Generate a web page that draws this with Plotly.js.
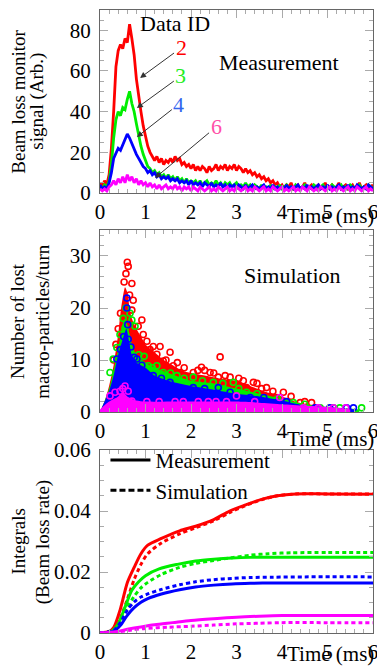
<!DOCTYPE html>
<html>
<head>
<meta charset="utf-8">
<script src="https://cdn.plot.ly/plotly-3.0.1.min.js"></script>
<style>html,body{margin:0;padding:0;background:#fff;}#chart{width:377px;height:667px;}</style>
</head>
<body>
<div id="chart"></div>
<script>
// ---------- Panel 1: measurement (beam loss monitor signal) ----------
const timeMs = [
  0,0.05,0.1,0.15,0.2,0.25,0.3,0.35,0.4,0.45,
  0.5,0.55,0.6,0.65,0.7,0.75,0.8,0.85,0.9,0.95,
  1,1.05,1.1,1.15,1.2,1.25,1.3,1.35,1.4,1.45,
  1.5,1.55,1.6,1.65,1.7,1.75,1.8,1.85,1.9,1.95,
  2,2.05,2.1,2.15,2.2,2.25,2.3,2.35,2.4,2.45,
  2.5,2.55,2.6,2.65,2.7,2.75,2.8,2.85,2.9,2.95,
  3,3.05,3.1,3.15,3.2,3.25,3.3,3.35,3.4,3.45,
  3.5,3.55,3.6,3.65,3.7,3.75,3.8,3.85,3.9,3.95,
  4,4.05,4.1,4.15,4.2,4.25,4.3,4.35,4.4,4.45,
  4.5,4.55,4.6,4.65,4.7,4.75,4.8,4.85,4.9,4.95,
  5,5.05,5.1,5.15,5.2,5.25,5.3,5.35,5.4,5.45,
  5.5,5.55,5.6,5.65,5.7,5.75,5.8,5.85,5.9,5.95,
  6
];
const measId2 = [
  5,3,6,4,9,22,40,62,70,73,
  71,76,74,83,76,68,56,47,40,33,
  28,23,20,18,16,18,15,17,14,16,
  15,17,15,18,16,17,14,15,13,14,
  12,14,11,13,11,13,12,10,13,11,
  12,14,11,13,12,14,11,13,12,14,
  11,13,12,10,12,10,11,9,10,8,
  9,7,8,6,7,5,6,4,5,3,
  4,2,4,3,5,2,3,4,2,3,
  5,2,3,4,2,3,4,2,3,5,
  2,3,4,2,3,5,2,3,4,2,
  3,4,2,3,5,2,3,4,2,3,
  4
];
const measId3 = [
  3,2,4,3,6,14,27,36,40,38,
  42,41,46,50,44,40,34,28,23,19,
  16,13,12,10,11,9,10,8,9,7,
  9,7,8,6,8,6,7,5,7,5,
  6,5,6,4,6,4,5,6,4,5,
  4,6,4,5,3,5,4,5,3,4,
  5,3,4,3,5,3,4,2,4,3,
  2,4,2,3,2,4,2,3,2,4,
  2,3,4,2,3,2,4,3,2,3,
  4,2,3,2,4,3,2,3,4,2,
  3,2,4,3,2,3,4,2,3,2,
  4,3,2,3,4,2,3,2,4,3,
  2
];
const measId4 = [
  4,2,3,2,5,10,17,20,22,21,
  24,26,29,27,24,22,19,17,15,13,
  12,10,11,9,10,8,9,7,8,7,
  8,6,7,6,7,5,6,5,6,4,
  6,4,5,4,5,3,5,4,3,5,
  3,4,3,5,3,4,2,4,3,4,
  2,4,3,2,4,2,3,4,2,3,
  2,3,4,2,3,2,4,2,3,2,
  3,2,4,2,3,2,3,4,2,3,
  2,4,2,3,2,3,4,2,3,2,
  4,2,3,2,3,4,2,3,2,4,
  2,3,2,4,3,2,3,2,4,3,
  2
];
const measId6 = [
  2,1,2,1,3,4,6,4,7,5,
  8,5,9,6,8,5,7,4,6,4,
  5,3,5,3,4,2,4,2,3,4,
  2,3,2,4,2,3,1,3,2,3,
  1,3,2,1,3,2,1,2,3,1,
  2,1,3,2,1,2,3,1,2,1,
  3,2,1,2,3,1,2,1,3,2,
  1,2,3,1,2,1,3,2,1,2,
  3,1,2,1,2,3,1,2,1,3,
  2,1,3,2,1,2,1,3,2,1,
  2,3,1,2,1,3,2,1,2,3,
  1,2,1,3,2,1,2,3,1,2,
  1
];

// ---------- Panel 2: simulation (lost macro-particles per turn) ----------
// dense cores (upper envelope of the packed markers)
const coreRedT  = [0,0.1,0.2,0.3,0.4,0.45,0.5,0.55,0.6,0.65,0.7,0.8,0.9,1.0,1.2,1.4,1.6,1.8,2.0,2.3,2.6,3.0,3.3,3.6,4.0,4.3,4.6,5.0];
const coreRedN  = [0,2,5,9,15,19,22,24,23,20,18,16,14.5,13,11.5,10,9,8,7.5,7,6.5,6,5,4,3,2,1.2,0.5];
const coreGreenT = [0,0.1,0.2,0.3,0.4,0.5,0.55,0.65,0.7,0.8,1.0,1.2,1.5,2.0,2.5,3.0,3.5,4.0,4.5,5.0,5.7];
const coreGreenN = [0,2,4.5,8,12,17,18,15,13,11,9.5,8.5,7.5,6,5.5,4.5,3.5,2.5,1.5,1,0.5];
const coreBlueT = [0,0.1,0.2,0.3,0.4,0.5,0.58,0.65,0.7,0.8,0.9,1.0,1.2,1.5,2.0,2.5,3.0,3.5,4.0,4.5,5.0,5.6];
const coreBlueN = [0,2,4,7,11,14,16,13,11,9.5,9,8.5,7,6,5,4.3,3.5,3,2.2,1.2,0.9,0.5];
const coreMagT  = [0,0.2,0.4,0.5,0.6,0.8,1.0,2.0,3.0,3.5,4.0,4.5,5.0,5.5];
const coreMagN  = [0.5,2,3,4,3,2.2,2,2,2,1.8,1.5,1.2,1,0.5];
// individually visible markers
const simRedT = [0.60,0.62,0.57,0.53,0.70,0.65,0.73,0.70,0.92,0.84,0.95,1.03,1.17,1.32,1.54,1.25,1.03,1.39,1.61,1.76,2.23,2.05,2.42,2.64,2.60,2.86,3.37,3.22,3.66,4.03,3.88,4.65,4.40,1.10,1.45,1.85,2.15,2.50,2.75,3.05,3.45,1.70,2.30,0.45,0.40,0.35,0.30,3.15,3.55,3.80,4.20,4.50];
const simRedN = [28.8,28,26.6,25,24.7,22.5,21.5,19.6,17.7,16.5,14.9,13.6,12.6,12.6,11.5,11.1,10.2,9.8,8.9,7.6,8.6,7.6,7.6,10.6,6.7,6.7,5.7,4.7,4.7,3.8,2.8,1.8,1.8,12,10,8.5,8,7.5,7,6.5,5.5,9.5,8,19,16,13,10,6,4.5,4,3,2];
const simGreenT = [0.57,0.51,0.66,0.70,0.55,0.44,0.77,0.97,0.37,0.29,0.22,1.06,1.25,1.39,1.69,2.05,2.49,2.93,3.22,3.66,4.10,4.25,4.84,5.13,5.27,5.75,0.85,1.15,1.55,1.85,2.25,2.70,3.05,3.45,3.90,4.50];
const simGreenN = [20,18,19,17.7,16.1,14.9,16.5,10.7,12.4,10.2,7.6,8.9,8.9,7.6,7,6.7,5.7,5.7,3.8,2.5,1.8,1.8,0.8,0.8,0.8,0.8,11,8.5,7.5,6.5,6,5.5,4.5,3.5,2.5,1.5];
const simBlueT = [0.59,0.59,0.61,0.62,0.37,0.81,1.17,1.54,1.83,2.05,2.60,2.86,3.30,3.88,4.32,4.73,5.42,5.57,0.45,0.52,0.68,0.75,0.92,1.35,2.30,3.60,4.10,5.05];
const simBlueN = [21.9,20,16.8,14,10.2,10.2,7,5.7,4.1,4.7,4.7,3.8,2.8,1.8,0.8,0.8,0.8,0.8,12,14.5,12.5,10.5,9,6.5,4.5,2.8,2,0.8];
const simMagT = [0.55,0.44,0.33,0.22,0.70,1.03,1.65,1.83,2.16,2.38,2.78,3.00,3.95,4.47,5.13,0.62,0.50,1.30,2.55,3.40,4.80,5.40];
const simMagN = [5,4,3.8,3.1,2.1,2,2,2,2,2,2,3.1,2.8,0.8,0.8,4,4.5,2,2,2,0.8,0.8];

// ---------- Panel 3: integrals (beam loss rate) ----------
const intRedMeasT = [0,0.2,0.3,0.45,0.6,0.75,0.9,1.05,1.35,1.75,2.1,2.5,2.85,3.2,3.55,3.9,4.3,5,6];
const intRedMeas  = [0,0.0005,0.0018,0.008,0.0165,0.0215,0.026,0.0288,0.031,0.0335,0.035,0.0372,0.040,0.042,0.0438,0.045,0.0456,0.0456,0.0455];
const intRedSimT  = [0,0.3,0.45,0.6,0.75,0.9,1.05,1.35,1.75,2.1,2.5,2.85,3.2,3.55,3.9,4.3,5,6];
const intRedSim   = [0,0.001,0.005,0.011,0.0175,0.0225,0.026,0.0295,0.0325,0.0345,0.0368,0.0395,0.0418,0.0437,0.045,0.0456,0.0456,0.0456];
const intGreenMeasT = [0,0.25,0.4,0.55,0.7,0.85,1.0,1.3,1.7,2.1,2.5,2.9,3.3,3.8,4.5,6];
const intGreenMeas  = [0,0.0005,0.003,0.0085,0.014,0.0168,0.0188,0.021,0.0225,0.0236,0.0242,0.0246,0.0248,0.0248,0.0248,0.0248];
const intGreenSimT  = [0,0.3,0.45,0.6,0.75,0.9,1.05,1.35,1.75,2.1,2.5,2.9,3.3,3.7,4.2,5,6];
const intGreenSim   = [0,0.0008,0.004,0.0085,0.012,0.0148,0.0166,0.0192,0.0215,0.0228,0.0238,0.0247,0.0255,0.026,0.0263,0.0264,0.0264];
const intBlueMeasT = [0,0.3,0.45,0.6,0.75,0.9,1.05,1.35,1.75,2.1,2.5,2.9,3.3,3.8,4.5,6];
const intBlueMeas  = [0,0.0005,0.0025,0.0058,0.0083,0.0101,0.0113,0.0128,0.0142,0.0151,0.0157,0.0161,0.0163,0.0164,0.0164,0.0164];
const intBlueSimT  = [0,0.3,0.45,0.6,0.75,0.9,1.05,1.35,1.75,2.1,2.5,2.9,3.3,3.8,4.5,6];
const intBlueSim   = [0,0.0008,0.0035,0.0075,0.0102,0.0118,0.0128,0.0143,0.0158,0.0168,0.0175,0.0179,0.0182,0.0183,0.0184,0.0184];
const intMagMeasT = [0,0.3,0.6,0.9,1.2,1.6,2.0,2.5,3.0,3.5,4.0,5,6];
const intMagMeas  = [0,0.0003,0.0012,0.002,0.0027,0.0034,0.0041,0.0047,0.0052,0.0055,0.0057,0.0057,0.0057];
const intMagSimT  = [0,0.4,0.7,1.0,1.5,2.0,2.5,3.0,3.5,4.0,5,6];
const intMagSim   = [0,0.0004,0.001,0.0015,0.0019,0.0022,0.0026,0.003,0.0032,0.0034,0.0034,0.0034];

const seriesNames = ['Data ID 2','Data ID 3','Data ID 4','Data ID 6'];
const colors = ['#ff0000','#00ee00','#0000ff','#ff00ff'];
const FONT = 'Liberation Serif';

const traces = [];
// panel 1
[measId2, measId3, measId4, measId6].forEach((v,i)=>{
  traces.push({x: timeMs, y: v, type:'scatter', mode:'lines', xaxis:'x', yaxis:'y',
    line:{color: colors[i], width: 2.8}, name: seriesNames[i], showlegend:false, hoverinfo:'skip'});
});
// panel 2
const cores = [[coreRedT,coreRedN],[coreGreenT,coreGreenN],[coreBlueT,coreBlueN],[coreMagT,coreMagN]];
const pts = [[simRedT,simRedN],[simGreenT,simGreenN],[simBlueT,simBlueN],[simMagT,simMagN]];
for (let i=0;i<4;i++){
  traces.push({x: cores[i][0], y: cores[i][1], type:'scatter', mode:'lines', fill:'tozeroy',
    xaxis:'x2', yaxis:'y2', line:{width:0, color:colors[i], shape:'spline', smoothing:0.6},
    fillcolor: colors[i], showlegend:false, hoverinfo:'skip', name: seriesNames[i]});
  traces.push({x: pts[i][0], y: pts[i][1], type:'scatter', mode:'markers', xaxis:'x2', yaxis:'y2',
    marker:{symbol:'circle-open', size:6, color:colors[i], line:{width:1.6, color:colors[i]}},
    showlegend:false, hoverinfo:'skip', name: seriesNames[i]});
}
// panel 3
const meas = [[intRedMeasT,intRedMeas],[intGreenMeasT,intGreenMeas],[intBlueMeasT,intBlueMeas],[intMagMeasT,intMagMeas]];
const sims = [[intRedSimT,intRedSim],[intGreenSimT,intGreenSim],[intBlueSimT,intBlueSim],[intMagSimT,intMagSim]];
for (let i=0;i<4;i++){
  traces.push({x: meas[i][0], y: meas[i][1], type:'scatter', mode:'lines', xaxis:'x3', yaxis:'y3',
    line:{color:colors[i], width:3, shape:'spline', smoothing:0.8}, showlegend:false, hoverinfo:'skip', name: seriesNames[i]});
  traces.push({x: sims[i][0], y: sims[i][1], type:'scatter', mode:'lines', xaxis:'x3', yaxis:'y3',
    line:{color:colors[i], width:3, dash:'4px,3px', shape:'spline', smoothing:0.8}, showlegend:false, hoverinfo:'skip', name: seriesNames[i]});
}
// legend entries
traces.push({x:[null], y:[null], type:'scatter', mode:'lines', xaxis:'x3', yaxis:'y3', name:'Measurement', line:{color:'#000', width:3}});
traces.push({x:[null], y:[null], type:'scatter', mode:'lines', xaxis:'x3', yaxis:'y3', name:'Simulation', line:{color:'#000', width:3, dash:'6px,3px'}});

function xa(anchor){
  return {anchor: anchor, range:[0,6], dtick:1, tick0:0, showgrid:false, zeroline:false,
    showline:true, linecolor:'#666', linewidth:1, mirror:'allticks', ticks:'inside', ticklen:8,
    tickcolor:'#aaa', tickwidth:1, ticklabeloverflow:'allow', tickfont:{family:FONT, size:21, color:'#000'},
    minor:{ticks:'inside', dtick:0.2, ticklen:4, tickcolor:'#aaa', showgrid:false}};
}
function ya(domain, range, dtick, minor){
  return {domain: domain, range: range, dtick: dtick, tick0:0, showgrid:false, zeroline:false,
    showline:true, linecolor:'#666', linewidth:1, mirror:'allticks', ticks:'inside', ticklen:8,
    tickcolor:'#aaa', tickwidth:1, ticklabelstandoff:4, ticklabeloverflow:'allow', tickfont:{family:FONT, size:21, color:'#000'},
    minor:{ticks:'inside', dtick:minor, ticklen:4, tickcolor:'#aaa', showgrid:false}};
}

const ann = [];
function txt(text, x, y, xref, yref, size, color, extra){
  ann.push(Object.assign({text:text, x:x, y:y, xref:xref, yref:yref, showarrow:false,
    font:{family:FONT, size:size, color:color||'#000'}}, extra||{}));
}
// y-axis titles (two lines each)
txt('Beam loss monitor', -0.300, 0.853, 'paper','paper', 19, '#000', {textangle:-90, xanchor:'center', yanchor:'middle'});
txt('signal (Arb.)', -0.234, 0.853, 'paper','paper', 19, '#000', {textangle:-90, xanchor:'center', yanchor:'middle'});
txt('Number of lost', -0.300, 0.501, 'paper','paper', 19, '#000', {textangle:-90, xanchor:'center', yanchor:'middle'});
txt('macro-particles/turn', -0.209, 0.501, 'paper','paper', 19, '#000', {textangle:-90, xanchor:'center', yanchor:'middle'});
txt('Integrals', -0.300, 0.147, 'paper','paper', 19, '#000', {textangle:-90, xanchor:'center', yanchor:'middle'});
txt('(Beam loss rate)', -0.209, 0.147, 'paper','paper', 19, '#000', {textangle:-90, xanchor:'center', yanchor:'middle'});
// x-axis titles
txt('Time (ms)', 1.011, 0.669, 'paper','paper', 21, '#000', {xanchor:'right', yanchor:'middle'});
txt('Time (ms)', 1.011, 0.311, 'paper','paper', 21, '#000', {xanchor:'right', yanchor:'middle'});
txt('Time (ms)', 1.011, -0.034, 'paper','paper', 21, '#000', {xanchor:'right', yanchor:'middle'});
// panel labels
txt('Data ID', 1.65, 83.6, 'x','y', 22, '#000');
txt('Measurement', 3.93, 64.4, 'x','y', 22, '#000');
txt('Simulation', 4.24, 26.2, 'x2','y2', 22, '#000');
// numbered arrows
function arrow(label, x, y, ax, ay, color){
  ann.push({text:label, x:x, y:y, xref:'x', yref:'y', ax:ax, ay:ay, showarrow:true,
    arrowhead:2, arrowsize:1.2, arrowwidth:1, arrowcolor:'#333', standoff:0,
    font:{family:FONT, size:22, color:color}});
}
arrow('2', 0.88, 56.6, 41, -30, '#ff0000');
arrow('3', 0.81, 41.8, 44, -32, '#22ee22');
arrow('4', 0.81, 27.5, 42, -33, '#3366ee');
arrow('6', 1.21, 7.4, 61, -51, '#ff4fa8');

const layout = {
  width:377, height:667, margin:{l:100, r:4, t:10, b:34},
  paper_bgcolor:'#fff', plot_bgcolor:'#fff', showlegend:true,
  font:{family:FONT, color:'#000'},
  xaxis: xa('y'), xaxis2: xa('y2'), xaxis3: xa('y3'),
  yaxis: ya([0.7063,1], [0,90], 20, 5),
  yaxis2: ya([0.3547,0.6469], [0,35], 10, 2),
  yaxis3: ya([0,0.2937], [0,0.06], 0.02, 0.005),
  legend:{x:0.02, y:0.31, xanchor:'left', yanchor:'top', bgcolor:'rgba(0,0,0,0)',
    font:{family:FONT, size:21, color:'#000'}, itemwidth:40, tracegroupgap:0},
  annotations: ann
};
Plotly.newPlot('chart', traces, layout, {displayModeBar:false, staticPlot:true});
</script>
</body>
</html>
